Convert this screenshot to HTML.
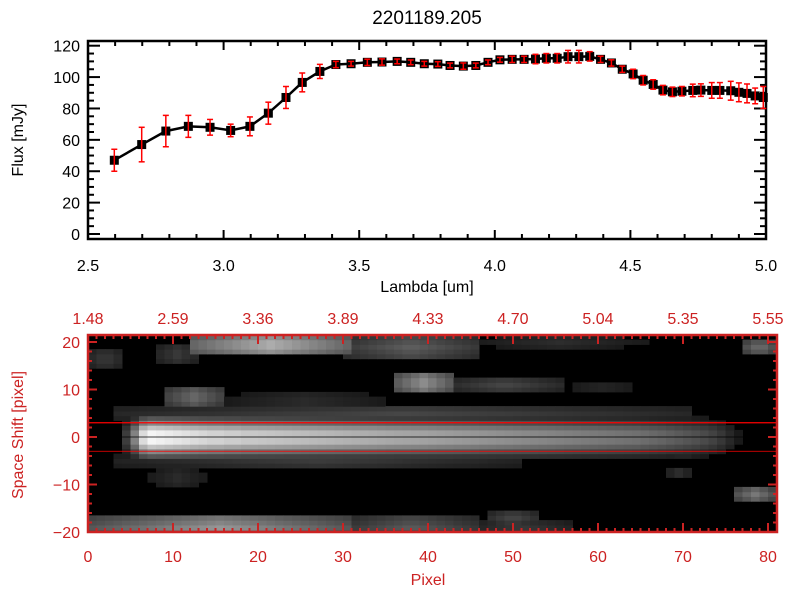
<!DOCTYPE html>
<html><head><meta charset="utf-8"><style>
html,body{margin:0;padding:0;background:#fff;}
svg{display:block;font-family:"Liberation Sans",sans-serif;}
</style></head><body>
<svg id="c" width="800" height="600" xmlns="http://www.w3.org/2000/svg"></svg>
<script>
const lambda=[2.597,2.698,2.787,2.87,2.95,3.026,3.097,3.165,3.23,3.29,3.355,3.414,3.47,3.53,3.584,3.64,3.69,3.74,3.79,3.835,3.884,3.93,3.975,4.019,4.064,4.108,4.15,4.19,4.23,4.27,4.31,4.35,4.39,4.43,4.47,4.51,4.547,4.584,4.62,4.655,4.69,4.73,4.76,4.80,4.83,4.87,4.90,4.93,4.96,4.99];
const flux=[47,57,65.6,68.6,68,66,68.6,77,87,96.6,103.6,108,108.5,109.4,109.6,110,109.4,108.5,108.3,107.4,107,107.4,109.4,111,111.3,111.3,111.5,112,112,113,113,113.2,111.3,109,105,102,98,95.3,91.7,90.6,91,91.5,91.7,91.5,91.5,91.3,90.3,89.6,88,87];
const fluxErr=[7,11,10,7,5,4,6,7,7,6,4.5,2,1.5,2,2,1.5,1.5,1.5,1.5,1.5,2,1.5,1.5,1.5,2,2,3,3,3,4,4,3,2,2,2,3,3,3,3,3,3,4,4,5,5,6,6,6,5,7];
const xTicksTop=[2.5,3.0,3.5,4.0,4.5,5.0];
const xTickLabelsTop=["2.5","3.0","3.5","4.0","4.5","5.0"];
const yTicksTop=[0,20,40,60,80,100,120];
const pixTicks=[0,10,20,30,40,50,60,70,80];
const lamTopLabels=["1.48","2.59","3.36","3.89","4.33","4.70","5.04","5.35","5.55"];
const shiftTicks=[-20,-10,0,10,20];
// heatmap features: [x0,x1,y0,y1,intensity]
const bandProfile=[0,0,0,0,60,130,220,245,240,235,230,225,220,215,210,210,205,205,200,200,198,196,194,192,190,188,186,184,182,180,178,176,174,172,170,168,166,165,164,162,160,158,156,154,152,150,148,146,144,142,140,138,136,134,132,130,128,126,124,122,120,118,116,114,112,108,104,100,95,90,85,80,74,66,55,40,25,0,0,0,0];
const blobs=[
[0,30,-21,-17,150],[30,45,-21,-17,90],[45,56,-21,-18,60],[47,52,-18,-16,70],
[12,30,18,21,185],[30,45,17,21,95],[8,12,16,19,60],[0,3,15,18,60],[45,65,19,21,45],
[36,42,10,13,150],[42,55,10,12,70],[55,65,10,11,40],
[9,15,7,10,110],[15,35,6,9,45],[3,70,4,6,70],[3,50,-6,-4,60],[7,13,-10,-7,45],
[76,80,-13,-11,120],[77,80,18,20,110],[68,70,-8,-7,50],[68,71,-4,-3,45]];
const NS="http://www.w3.org/2000/svg";
const svg=document.getElementById('c');
function mk(t,a,p){const e=document.createElementNS(NS,t);for(const k in a)e.setAttribute(k,a[k]);(p||svg).appendChild(e);return e;}
const X0=88,X1=766,Y0=239,Y1=41;
const sx=v=>X0+(v-2.5)/2.5*(X1-X0);
const sy=v=>234-v*(234-45.7)/120;
const gTop=mk('g',{});
const t=mk('text',{x:427,y:24,'text-anchor':'middle','font-size':19,fill:'#000'});t.textContent='2201189.205';

const fr=mk('rect',{x:X0,y:Y1,width:X1-X0,height:Y0-Y1,fill:'none',stroke:'#000','stroke-width':2.5},gTop);

for(let v=2.5;v<=5.0001;v+=0.1){const maj=Math.abs(v*2-Math.round(v*2))<1e-6;const L=maj?9:5;const x=sx(v);
mk('line',{x1:x,x2:x,y1:Y0,y2:Y0-L,stroke:'#000','stroke-width':2},gTop);mk('line',{x1:x,x2:x,y1:Y1,y2:Y1+L,stroke:'#000','stroke-width':2},gTop);}
for(let v=0;v<=125;v+=5){const maj=v%20===0;const L=maj?12:6;const y=sy(v);if(y<Y1)continue;
mk('line',{x1:X0,x2:X0+L,y1:y,y2:y,stroke:'#000','stroke-width':2},gTop);mk('line',{x1:X1,x2:X1-L,y1:y,y2:y,stroke:'#000','stroke-width':2},gTop);}
xTicksTop.forEach((v,i)=>{const e=mk('text',{x:sx(v),y:271,'text-anchor':'middle','font-size':16},gTop);e.textContent=xTickLabelsTop[i];});
yTicksTop.forEach(v=>{const e=mk('text',{x:80,y:sy(v)+6,'text-anchor':'end','font-size':16},gTop);e.textContent=String(v);});
let e=mk('text',{x:427,y:292,'text-anchor':'middle','font-size':16},gTop);e.textContent='Lambda [um]';
e=mk('text',{x:0,y:0,'text-anchor':'middle','font-size':16,transform:'translate(23,140) rotate(-90)'},gTop);e.textContent='Flux [mJy]';
let d='';lambda.forEach((l,i)=>{d+=(i?'L':'M')+sx(l).toFixed(1)+' '+sy(flux[i]).toFixed(1);});
e=mk('path',{d:d,fill:'none',stroke:'#000','stroke-width':2.5},gTop);
lambda.forEach((l,i)=>{const x=sx(l),y=sy(flux[i]);
const m=mk('rect',{x:x-4.5,y:y-4.5,width:9,height:9,fill:'#000'},gTop);
const g=mk('g',{stroke:'#ff0000','stroke-width':1.5},gTop);
const ya=sy(flux[i]+fluxErr[i]),yb=sy(flux[i]-fluxErr[i]);
mk('line',{x1:x,x2:x,y1:ya,y2:yb},g);mk('line',{x1:x-3,x2:x+3,y1:ya,y2:ya},g);mk('line',{x1:x-3,x2:x+3,y1:yb,y2:yb},g);});
const R='#cc2222';
const BX0=88,BX1=777,BY0=532,BY1=335;
const px=v=>88+v*(768-88)/80;
const py=v=>437-v*(437-342)/20;
const gB=mk('g',{});
const cp=mk('clipPath',{id:'clp'});mk('rect',{x:BX0,y:BY1,width:BX1-BX0,height:BY0-BY1},cp);
const heat=mk('g',{'clip-path':'url(#clp)'},gB);
mk('rect',{x:BX0,y:BY1,width:BX1-BX0,height:BY0-BY1,fill:'#000'},heat);
const cw=px(1)-px(0),ch=py(0)-py(1);
for(let c=0;c<81;c++){for(let r=-21;r<=21;r++){
let v=0;const bp=bandProfile[c]||0;const ar=Math.abs(r);
let bv=ar<=1?bp:ar===2?bp*0.8:ar===3?bp*0.55:ar===4?bp*0.35:0;v=Math.max(v,bv);
blobs.forEach(b=>{if(c>=b[0]&&c<=b[1]&&r>=b[2]&&r<=b[3]){const cx=(b[0]+b[1])/2,hw=(b[1]-b[0])/2+1,cy=(b[2]+b[3])/2,hh=(b[3]-b[2])/2+1;
const f=(1-0.45*Math.abs(c-cx)/hw)*(1-0.35*Math.abs(r-cy)/hh);v=Math.max(v,b[4]*f);}});
if(v<25)continue;v=Math.min(255,Math.round(v));
const cell=mk('rect',{x:px(c).toFixed(1),y:(py(r)-ch/2).toFixed(1),width:(cw+0.5).toFixed(1),height:(ch+0.5).toFixed(1),fill:`rgb(${v},${v},${v})`},heat);
}}
e=mk('line',{x1:BX0,x2:BX1,y1:py(3),y2:py(3),stroke:'#ff0000','stroke-width':1.2},gB);
e=mk('line',{x1:BX0,x2:BX1,y1:py(-3),y2:py(-3),stroke:'#ff0000','stroke-width':0.8},gB);
e=mk('line',{x1:BX0,x2:BX1,y1:py(0),y2:py(0),stroke:'#000','stroke-width':0.8},gB);
e=mk('rect',{x:BX0,y:BY1,width:BX1-BX0,height:BY0-BY1,fill:'none',stroke:R,'stroke-width':2.5},gB);
for(let v=0;v<=80;v++){const maj=v%10===0;const L=maj?9:4;const x=px(v);
mk('line',{x1:x,x2:x,y1:BY0,y2:BY0-L,stroke:R,'stroke-width':2},gB);mk('line',{x1:x,x2:x,y1:BY1,y2:BY1+L,stroke:R,'stroke-width':2},gB);}
for(let v=-20;v<=20;v+=2){const maj=v%10===0;const L=maj?9:4;const y=py(v);
mk('line',{x1:BX0,x2:BX0+L,y1:y,y2:y,stroke:R,'stroke-width':2},gB);mk('line',{x1:BX1,x2:BX1-L,y1:y,y2:y,stroke:R,'stroke-width':2},gB);}
pixTicks.forEach((v,i)=>{let t=mk('text',{x:px(v),y:562,'text-anchor':'middle','font-size':16,fill:R},gB);t.textContent=String(v);
t=mk('text',{x:px(v),y:324,'text-anchor':'middle','font-size':16,fill:R},gB);t.textContent=lamTopLabels[i];});
shiftTicks.forEach(v=>{const t=mk('text',{x:80,y:py(v)+6,'text-anchor':'end','font-size':16,fill:R},gB);t.textContent=v<0?'\u2212'+(-v):String(v);});
e=mk('text',{x:428,y:585,'text-anchor':'middle','font-size':16,fill:R},gB);e.textContent='Pixel';
e=mk('text',{x:0,y:0,'text-anchor':'middle','font-size':16,fill:R,transform:'translate(23,435) rotate(-90)'},gB);e.textContent='Space Shift [pixel]';
</script>
</body></html>
